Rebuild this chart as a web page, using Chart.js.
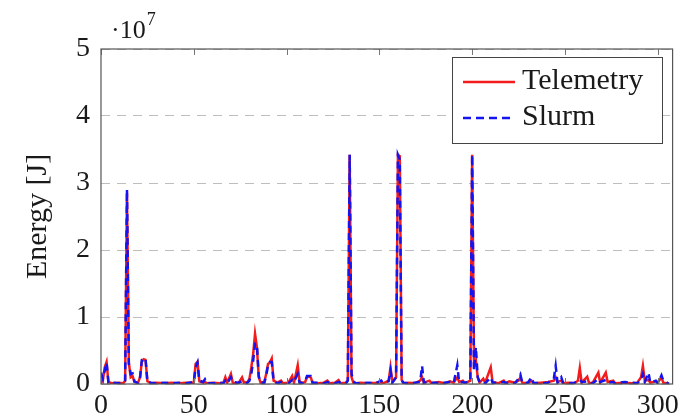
<!DOCTYPE html>
<html>
<head>
<meta charset="utf-8">
<script src="https://cdn.jsdelivr.net/npm/chart.js"></script>
<style>
  html, body { margin: 0; padding: 0; background: #fff; }
  #wrap { width: 684px; height: 418px; position: relative; }
</style>
</head>
<body>
<div id="wrap"><canvas id="energyChart" width="684" height="418"></canvas></div>
<script>
// job index (x) and energy in units of 1e7 J
const jobIdx = [
  0, 1, 2, 3, 4, 6, 9, 12, 13, 14, 15, 16, 17, 18, 20, 21, 22, 23, 24, 25,
  27, 30, 34, 38, 42, 46, 50, 51, 52, 53, 55, 56, 57, 60, 64, 66, 67, 68, 70, 71,
  74, 76, 77, 79, 80, 81, 82, 83, 84, 85, 86, 88, 89, 90, 91, 92, 93, 95, 97, 98,
  101, 103, 104, 106, 107, 109, 110, 111, 112, 113, 114, 117, 120, 122, 123, 126, 128, 129, 132, 133,
  134, 135, 136, 137, 140, 144, 148, 151, 152, 155, 156, 157, 159, 160, 161, 162, 163, 166, 169, 172,
  173, 174, 177, 178, 182, 185, 188, 190, 192, 193, 195, 196, 199, 200, 201, 202, 203, 204, 206, 207,
  210, 211, 214, 217, 218, 220, 223, 225, 226, 227, 230, 232, 233, 237, 241, 244, 245, 246, 248, 249,
  252, 255, 257, 258, 259, 262, 263, 265, 268, 269, 272, 273, 276, 277, 282, 286, 289, 291, 292, 293,
  295, 296, 299, 300, 302, 303, 305, 306
];

const telemetry = [
  0.12, 0.05, 0.25, 0.33, 0.03, 0.01, 0.02, 0.01, 0.05, 2.85, 0.32, 0.10, 0.12, 0.03, 0.02, 0.10, 0.33, 0.37, 0.36, 0.04,
  0.01, 0.02, 0.01, 0.02, 0.01, 0.02, 0.02, 0.30, 0.33, 0.04, 0.02, 0.03, 0.01, 0.02, 0.01, 0.02, 0.10, 0.02, 0.15, 0.02,
  0.01, 0.10, 0.02, 0.03, 0.08, 0.25, 0.45, 0.75, 0.55, 0.10, 0.02, 0.03, 0.15, 0.30, 0.32, 0.38, 0.05, 0.02, 0.05, 0.01,
  0.02, 0.12, 0.02, 0.28, 0.03, 0.02, 0.03, 0.10, 0.11, 0.10, 0.02, 0.01, 0.02, 0.05, 0.01, 0.02, 0.06, 0.01, 0.02, 0.06,
  3.42, 0.10, 0.02, 0.01, 0.02, 0.01, 0.02, 0.03, 0.01, 0.05, 0.25, 0.03, 0.10, 3.42, 3.40, 0.06, 0.01, 0.02, 0.01, 0.05,
  0.10, 0.02, 0.05, 0.01, 0.03, 0.01, 0.04, 0.02, 0.10, 0.03, 0.05, 0.01, 0.05, 3.42, 0.30, 0.35, 0.10, 0.02, 0.08, 0.02,
  0.25, 0.03, 0.01, 0.05, 0.01, 0.04, 0.02, 0.05, 0.10, 0.02, 0.01, 0.05, 0.01, 0.02, 0.03, 0.05, 0.10, 0.03, 0.05, 0.01,
  0.02, 0.01, 0.05, 0.24, 0.02, 0.11, 0.01, 0.02, 0.17, 0.02, 0.17, 0.03, 0.05, 0.01, 0.02, 0.01, 0.02, 0.10, 0.27, 0.05,
  0.06, 0.02, 0.04, 0.02, 0.10, 0.02, 0.01, 0.00
];

const slurm = [
  0.17, 0.08, 0.20, 0.32, 0.02, 0.02, 0.01, 0.02, 0.05, 2.90, 0.30, 0.15, 0.16, 0.04, 0.01, 0.08, 0.36, 0.38, 0.38, 0.03,
  0.02, 0.01, 0.02, 0.01, 0.02, 0.01, 0.03, 0.25, 0.32, 0.05, 0.03, 0.07, 0.01, 0.01, 0.02, 0.01, 0.05, 0.01, 0.10, 0.03,
  0.02, 0.04, 0.01, 0.02, 0.05, 0.15, 0.35, 0.60, 0.60, 0.12, 0.02, 0.02, 0.12, 0.28, 0.33, 0.33, 0.04, 0.01, 0.03, 0.02,
  0.01, 0.06, 0.03, 0.15, 0.02, 0.01, 0.04, 0.12, 0.12, 0.12, 0.02, 0.02, 0.01, 0.03, 0.02, 0.01, 0.03, 0.02, 0.01, 0.05,
  3.42, 0.15, 0.05, 0.01, 0.01, 0.02, 0.01, 0.05, 0.02, 0.04, 0.20, 0.02, 0.10, 3.42, 3.35, 0.05, 0.02, 0.01, 0.02, 0.03,
  0.27, 0.02, 0.03, 0.02, 0.02, 0.02, 0.03, 0.01, 0.28, 0.02, 0.03, 0.02, 0.04, 3.42, 0.20, 0.55, 0.10, 0.03, 0.04, 0.01,
  0.10, 0.02, 0.02, 0.03, 0.02, 0.02, 0.01, 0.08, 0.14, 0.02, 0.02, 0.10, 0.02, 0.01, 0.02, 0.08, 0.27, 0.02, 0.10, 0.02,
  0.01, 0.02, 0.03, 0.06, 0.03, 0.04, 0.02, 0.01, 0.08, 0.03, 0.06, 0.02, 0.03, 0.01, 0.03, 0.02, 0.01, 0.06, 0.15, 0.03,
  0.17, 0.02, 0.05, 0.01, 0.13, 0.05, 0.02, 0.00
];

const yTicks = [0, 1, 2, 3, 4, 5];
const xTicks = [0, 50, 100, 150, 200, 250, 300];

const SERIF = '"Liberation Serif", "DejaVu Serif", serif';
const RED = "#f21c1c";
const BLUE = "#1414f0";

function toPoints(vals) {
  return jobIdx.map((x, i) => ({ x, y: vals[i] }));
}

// box, inward ticks, legend, exponent and y title (pgfplots look)
const decorations = {
  id: "decorations",
  afterDatasetsDraw(chart) {
    const { ctx, chartArea: a, scales } = chart;
    ctx.save();

    // small inward x ticks top and bottom
    ctx.strokeStyle = "#777";
    ctx.lineWidth = 1;
    xTicks.forEach(t => {
      const px = Math.round(scales.x.getPixelForValue(t)) + 0.5;
      ctx.beginPath();
      ctx.moveTo(px, a.top); ctx.lineTo(px, a.top + 6);
      ctx.moveTo(px, a.bottom); ctx.lineTo(px, a.bottom - 6);
      ctx.stroke();
    });

    // axis box
    ctx.strokeStyle = "#555";
    ctx.lineWidth = 1.2;
    ctx.strokeRect(a.left, a.top, a.right - a.left, a.bottom - a.top);

    // legend
    const lx = 452, ly = 57, lw = 210, lh = 86;
    ctx.fillStyle = "#fff";
    ctx.fillRect(lx, ly, lw, lh);
    ctx.strokeStyle = "#444";
    ctx.lineWidth = 1;
    ctx.strokeRect(lx + 0.5, ly + 0.5, lw, lh);

    ctx.lineWidth = 2.4;
    ctx.strokeStyle = RED;
    ctx.setLineDash([]);
    ctx.beginPath(); ctx.moveTo(463, 82); ctx.lineTo(515, 82); ctx.stroke();
    ctx.strokeStyle = BLUE;
    ctx.setLineDash([8, 5]);
    ctx.beginPath(); ctx.moveTo(463, 118); ctx.lineTo(515, 118); ctx.stroke();
    ctx.setLineDash([]);

    ctx.fillStyle = "#1a1a1a";
    ctx.font = "30px " + SERIF;
    ctx.textAlign = "left";
    ctx.textBaseline = "middle";
    ctx.fillText("Telemetry", 522, 81);
    ctx.fillText("Slurm", 522, 117);

    // exponent label
    ctx.textBaseline = "alphabetic";
    ctx.font = "26px " + SERIF;
    const base = "\u00B710";
    ctx.fillText(base, 111, 38);
    const w = ctx.measureText(base).width;
    ctx.font = "18px " + SERIF;
    ctx.fillText("7", 111 + w + 1, 25);

    // y title
    ctx.translate(38, (a.top + a.bottom) / 2);
    ctx.rotate(-Math.PI / 2);
    ctx.font = "30px " + SERIF;
    ctx.textAlign = "center";
    ctx.textBaseline = "middle";
    ctx.fillText("Energy [J]", 0, 0);

    ctx.restore();
  }
};

new Chart(document.getElementById("energyChart"), {
  type: "line",
  data: {
    datasets: [
      {
        label: "Telemetry",
        data: toPoints(telemetry),
        borderColor: RED,
        borderWidth: 2.5,
        pointRadius: 0,
        tension: 0,
        order: 2
      },
      {
        label: "Slurm",
        data: toPoints(slurm),
        borderColor: BLUE,
        borderWidth: 2.5,
        borderDash: [7, 5],
        pointRadius: 0,
        tension: 0,
        order: 1
      }
    ]
  },
  options: {
    responsive: false,
    animation: false,
    layout: { padding: { top: 49, right: 10, left: 0, bottom: 0 } },
    plugins: { legend: { display: false }, tooltip: { enabled: false } },
    scales: {
      x: {
        type: "linear",
        min: 0,
        max: 308,
        afterBuildTicks: s => { s.ticks = xTicks.map(v => ({ value: v })); },
        afterFit: s => { s.height = 34; },
        grid: { display: false, drawTicks: false },
        border: { display: false },
        ticks: {
          padding: 5,
          maxRotation: 0,
          color: "#1a1a1a",
          font: { family: SERIF, size: 28 }
        }
      },
      y: {
        min: 0,
        max: 5,
        afterBuildTicks: s => { s.ticks = yTicks.map(v => ({ value: v })); },
        afterFit: s => { s.width = 101; },
        grid: {
          color: "#bdbdbd",
          lineWidth: 1,
          drawTicks: false
        },
        border: { display: false, dash: [9, 7] },
        ticks: {
          padding: 11,
          color: "#1a1a1a",
          font: { family: SERIF, size: 28 }
        }
      }
    }
  },
  plugins: [decorations]
});
</script>
</body>
</html>
